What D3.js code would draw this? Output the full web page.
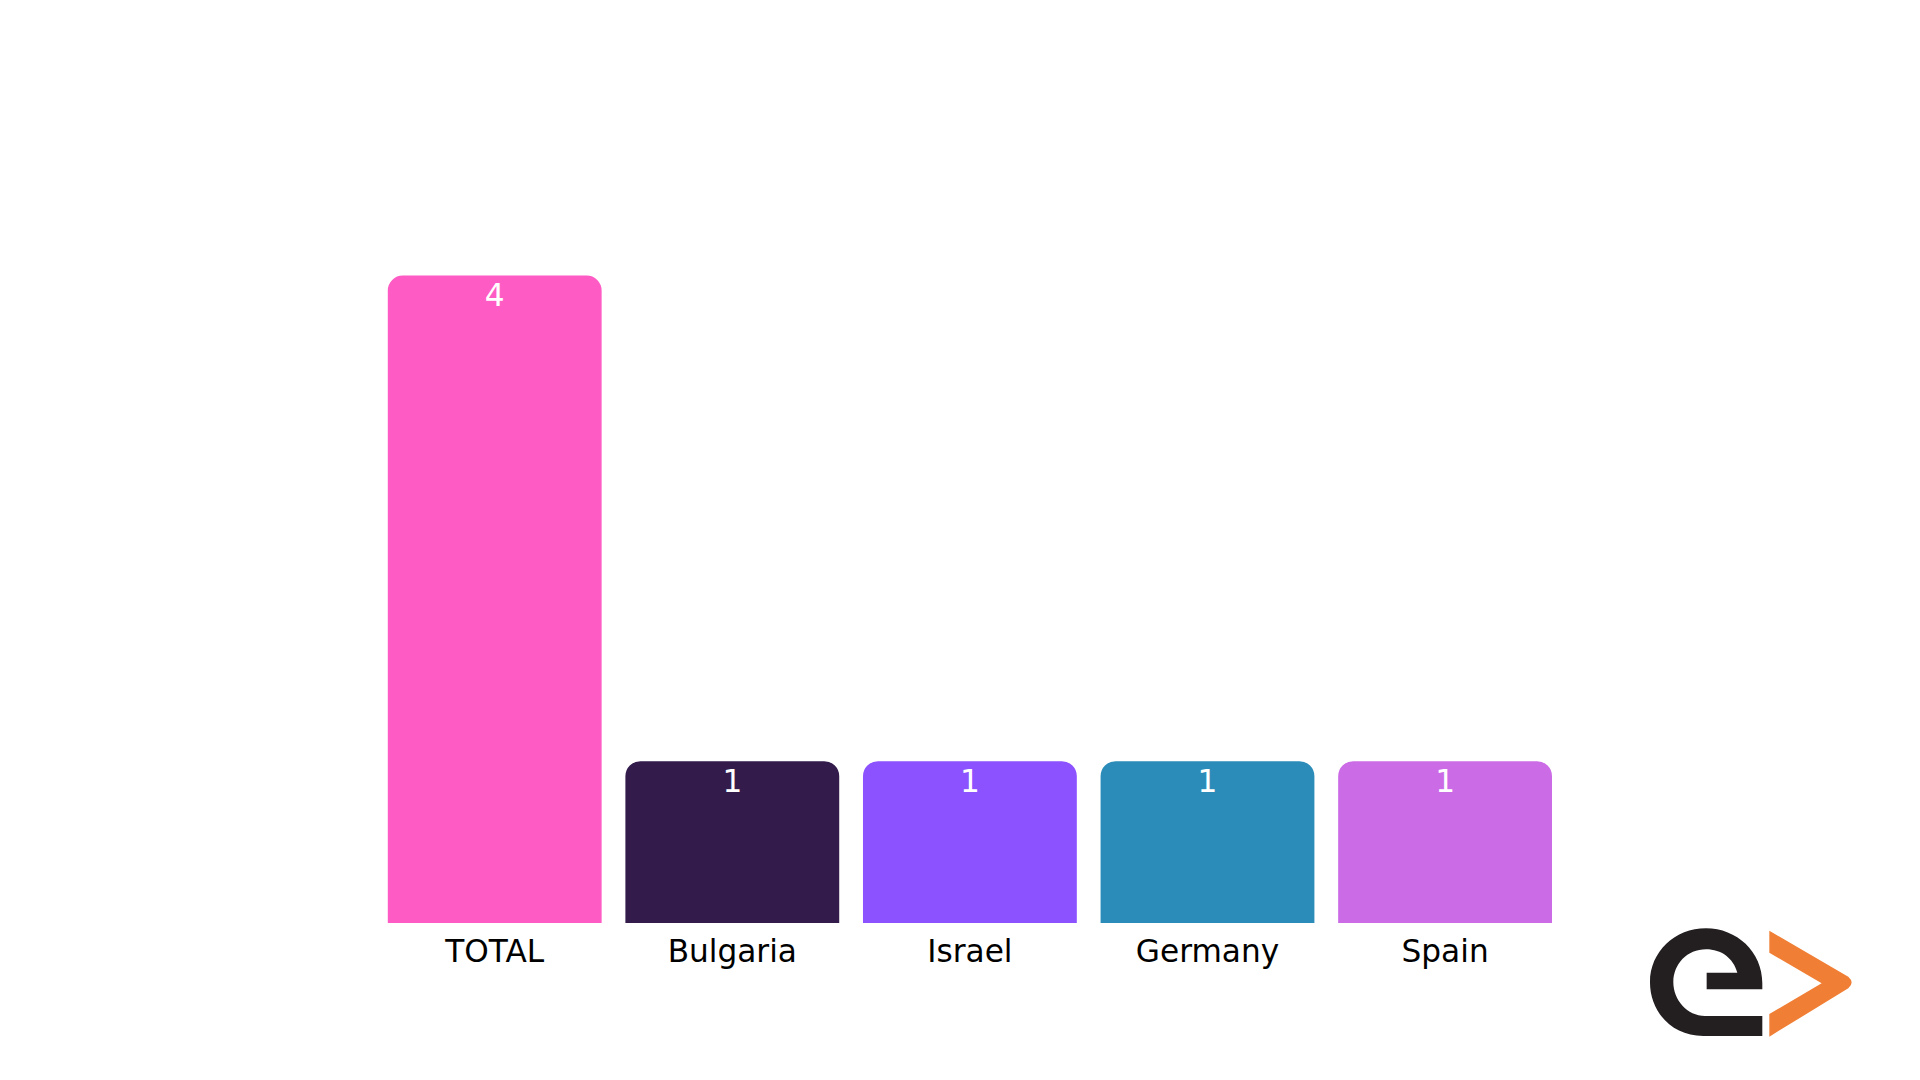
<!DOCTYPE html>
<html>
<head>
<meta charset="utf-8">
<script src="https://cdnjs.cloudflare.com/ajax/libs/d3/7.8.5/d3.min.js"></script>
<style>
  html, body { margin: 0; padding: 0; background: #fff; overflow: hidden; }
  svg { display: block; }
  text { font-family: "DejaVu Sans", sans-serif; font-size: 31.2px; }
</style>
</head>
<body>
<svg id="chart" width="1920" height="1080"></svg>
<script>
// Data
const categories = ["TOTAL", "Bulgaria", "Israel", "Germany", "Spain"];
const values = [4, 1, 1, 1, 1];
const barColors = ["#FF5BC4", "#331B4B", "#8C52FF", "#2C8CB9", "#CB6CE6"];

// Dimensions
const plot = { left: 387.8, right: 1552, top: 275.5, bottom: 923 };
const radius = 15;

const svg = d3.select("#chart");

const x = d3.scaleBand()
  .domain(categories)
  .range([plot.left, plot.right])
  .paddingInner(0.1);

const y = d3.scaleLinear()
  .domain([0, d3.max(values)])
  .range([plot.bottom, plot.top]);

// Bars, only the top corners are rounded
const barPath = (d, i) => {
  const x0 = x(categories[i]);
  const x1 = x0 + x.bandwidth();
  const top = y(d);
  return `M${x0},${plot.bottom}V${top + radius}A${radius},${radius} 0 0 1 ${x0 + radius},${top}` +
    `H${x1 - radius}A${radius},${radius} 0 0 1 ${x1},${top + radius}V${plot.bottom}Z`;
};

svg.selectAll(".bar")
  .data(values)
  .enter()
  .append("path")
  .attr("class", "bar")
  .attr("d", barPath)
  .attr("fill", (d, i) => barColors[i]);

// Value labels
svg.selectAll(".value")
  .data(values)
  .enter()
  .append("text")
  .attr("class", "value")
  .attr("x", (d, i) => x(categories[i]) + x.bandwidth() / 2)
  .attr("y", d => y(d) + 30.5)
  .attr("text-anchor", "middle")
  .attr("fill", "#fff")
  .text(d => d);

// Category axis
const axis = svg.append("g")
  .attr("class", "axis-x")
  .attr("transform", `translate(0,${plot.bottom})`)
  .call(d3.axisBottom(x).tickSize(0).tickPadding(16.5));

axis.select(".domain").remove();
axis.selectAll("text")
  .attr("fill", "#000")
  .style("font-family", '"DejaVu Sans", sans-serif')
  .style("font-size", "31.2px");

// Logo
const logo = svg.append("g")
  .attr("class", "logo")
  .attr("transform", "translate(1600,900) scale(0.3333)");

logo.append("path")
  .attr("fill", "#231F20")
  .attr("d", "M487 408L310 408C215 408 150 335 150 247C150 155 225 85 318 85C410 85 487 155 487 250L487 268L320 268L320 218L412 218C400 175 365 148 318 148C262 148 220 192 220 247C220 300 262 348 315 348L487 348Z");

logo.append("path")
  .attr("fill", "#F07F35")
  .attr("d", "M508 92L745 230Q765 248 745 265L508 410L508 342L665 250L508 158Z");
</script>
</body>
</html>
